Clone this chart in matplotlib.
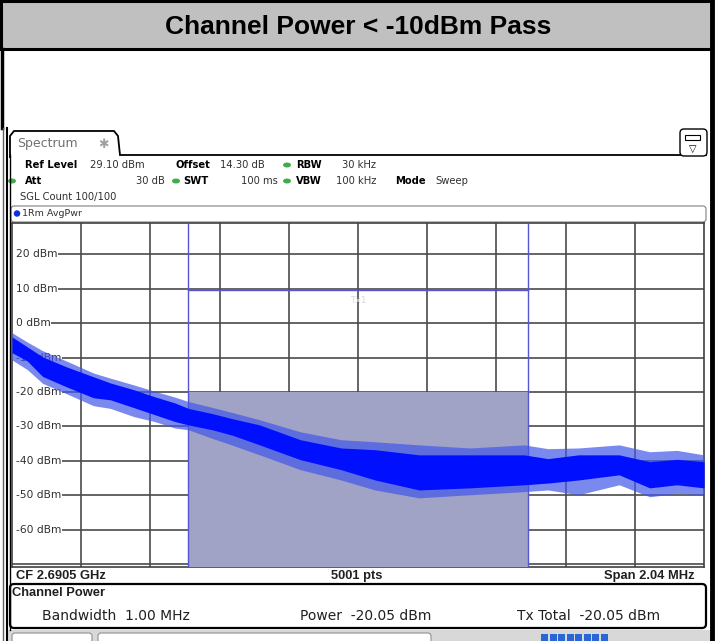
import matplotlib
matplotlib.use('Agg')
import matplotlib.pyplot as plt
from matplotlib.patches import Rectangle, FancyBboxPatch, Ellipse, Polygon

W, H = 715, 641

# ---------------- data ----------------
title = "Channel Power < -10dBm Pass"
ref_level = 29.10
span_mhz = 2.04
n_div = 10
y_ticks = [20, 10, 0, -10, -20, -30, -40, -50, -60]
y_ticklabels = ["20 dBm", "10 dBm", "0 dBm", "-10 dBm", "-20 dBm", "-30 dBm",
                "-40 dBm", "-50 dBm", "-60 dBm"]
channel_bw = 1.00
channel_power = -20.05
limit_level = 9.5

freq_mhz = [-1.02, -0.975, -0.93, -0.86, -0.78, -0.73, -0.66, -0.60, -0.54,
            -0.50, -0.43, -0.37, -0.29, -0.17, -0.05, 0.05, 0.18, 0.33,
            0.49, 0.56, 0.65, 0.77, 0.86, 0.94, 1.02]
core_hi = [-4.0, -6.9, -9.8, -12.7, -15.6, -17.4, -19.4, -21.4, -23.2,
           -24.8, -26.3, -27.8, -29.6, -33.9, -36.3, -36.8, -38.3, -38.3,
           -38.3, -39.4, -38.3, -38.3, -40.3, -39.6, -40.3]
core_lo = [-8.6, -11.0, -15.5, -18.5, -21.7, -22.3, -24.6, -26.6, -28.6,
           -29.6, -31.0, -32.6, -35.4, -39.7, -42.6, -45.6, -48.5, -47.9,
           -47.0, -46.5, -45.6, -44.1, -47.9, -47.0, -47.9]
spike_hi = [-2.8, -5.5, -8.0, -11.0, -14.5, -16.0, -18.0, -19.8, -21.5,
            -22.8, -24.5, -26.0, -28.1, -31.6, -33.9, -34.5, -35.4, -36.3,
            -35.4, -36.5, -36.3, -35.4, -37.4, -37.0, -38.3]
spike_lo = [-10.7, -13.5, -17.5, -20.5, -24.0, -24.8, -27.2, -28.6, -30.5,
            -31.0, -33.5, -35.5, -38.3, -42.6, -45.6, -48.5, -50.8, -49.9,
            -49.0, -48.5, -49.9, -47.0, -50.5, -49.5, -49.9]

info_labels = ["Ref Level", "Offset", "RBW", "Att", "SWT", "VBW", "Mode"]
info_values = ["29.10 dBm", "14.30 dB", "30 kHz", "30 dB", "100 ms", "100 kHz", "Sweep"]

# ---------------- figure ----------------
fig = plt.figure(figsize=(W / 100, H / 100), dpi=100)
bg = fig.add_axes([0, 0, 1, 1])
bg.set_xlim(0, W)
bg.set_ylim(H, 0)
bg.axis('off')

FONT = 'DejaVu Sans'

# banner
bg.add_patch(Rectangle((1, 1), 711, 48, fc='#c0c0c0', ec='black', lw=2.2))
bg.text(358, 27, title, ha='center', va='center', fontsize=19,
        fontweight='bold', family='Liberation Sans')
# outer borders
bg.plot([1.5, 1.5], [49, 128], color='black', lw=2.5)
bg.plot([712, 712], [0, 641], color='black', lw=3.5)
bg.plot([7, 7], [128, 641], color='black', lw=1.5)
bg.plot([3, 3], [128, 641], color='#606060', lw=1.0)

# spectrum tab
tab = Polygon([[10, 158], [10, 136], [14, 131], [114, 131], [118, 136],
               [120, 155], [707, 155]], closed=False, fill=False,
              ec='black', lw=1.3)
bg.add_patch(tab)
bg.text(17, 144, "Spectrum", fontsize=9, color='#707070', va='center', family=FONT)
bg.text(103, 144, "\u2731", fontsize=9, color='#a0a0a0', va='center',
        ha='center', family=FONT)
bg.plot([10, 10], [155, 630], color='black', lw=1.0)
# top right icon
bg.add_patch(FancyBboxPatch((680, 129), 27, 27, boxstyle='round,pad=0,rounding_size=4',
                            fc='white', ec='black', lw=1.0))
bg.add_patch(Rectangle((685, 135), 15, 5, fc='white', ec='black', lw=0.8))
bg.text(693, 149, "\u25bd", fontsize=7, ha='center', va='center', family=FONT)

# info lines
fs = 7.2
bg.text(25, 165, info_labels[0], fontsize=fs, fontweight='bold', va='center', family=FONT)
bg.text(90, 165, info_values[0], fontsize=fs, va='center', family=FONT, color='#303030')
bg.text(175, 165, info_labels[1], fontsize=fs, fontweight='bold', va='center', family=FONT)
bg.text(220, 165, info_values[1], fontsize=fs, va='center', family=FONT, color='#303030')
bg.text(296, 165, info_labels[2], fontsize=fs, fontweight='bold', va='center', family=FONT)
bg.text(376, 165, info_values[2], fontsize=fs, va='center', ha='right', family=FONT, color='#303030')
bg.text(25, 181, info_labels[3], fontsize=fs, fontweight='bold', va='center', family=FONT)
bg.text(165, 181, info_values[3], fontsize=fs, va='center', ha='right', family=FONT, color='#303030')
bg.text(183, 181, info_labels[4], fontsize=fs, fontweight='bold', va='center', family=FONT)
bg.text(278, 181, info_values[4], fontsize=fs, va='center', ha='right', family=FONT, color='#303030')
bg.text(296, 181, info_labels[5], fontsize=fs, fontweight='bold', va='center', family=FONT)
bg.text(376, 181, info_values[5], fontsize=fs, va='center', ha='right', family=FONT, color='#303030')
bg.text(395, 181, info_labels[6], fontsize=fs, fontweight='bold', va='center', family=FONT)
bg.text(435, 181, info_values[6], fontsize=fs, va='center', family=FONT, color='#303030')
bg.text(20, 197, "SGL Count 100/100", fontsize=fs, va='center', family=FONT, color='#303030')
for (gx, gy) in [(287, 165), (12, 181), (176, 181), (287, 181)]:
    bg.add_patch(Ellipse((gx, gy), 8, 5, fc='#3fae49', ec='none'))

# trace label box
bg.add_patch(FancyBboxPatch((11, 206), 695, 16, boxstyle='round,pad=0,rounding_size=3',
                            fc='white', ec='#808080', lw=0.8))
bg.add_patch(Ellipse((17, 213.5), 6.5, 6.5, fc='#1030e0', ec='none'))
bg.text(22, 213.5, "1Rm AvgPwr", fontsize=6.8, va='center', family=FONT, color='#303030')

# bottom row
bfs = 9.3
bg.text(16, 576, "CF 2.6905 GHz", fontsize=bfs, va='center', family='Liberation Sans',
        fontweight='bold', color='#202020')
bg.text(357, 576, "5001 pts", fontsize=bfs, va='center', ha='center', family='Liberation Sans',
        fontweight='bold', color='#202020')
bg.text(695, 576, "Span %.2f MHz" % span_mhz, fontsize=bfs, va='center', ha='right',
        family='Liberation Sans', fontweight='bold', color='#202020')

# channel power box
bg.add_patch(FancyBboxPatch((10, 584), 696, 44, boxstyle='round,pad=0,rounding_size=4',
                            fc='white', ec='black', lw=1.6))
bg.text(12, 593, "Channel Power", fontsize=bfs, va='center', family='Liberation Sans',
        fontweight='bold', color='#202020')
bg.text(42, 616, "Bandwidth  %.2f MHz" % channel_bw, fontsize=10, va='center',
        family=FONT, color='#202020')
bg.text(300, 616, "Power  %.2f dBm" % channel_power, fontsize=10, va='center',
        family=FONT, color='#202020')
bg.text(517, 616, "Tx Total  %.2f dBm" % channel_power, fontsize=10, va='center',
        family=FONT, color='#202020')

# bottom strip
bg.add_patch(Rectangle((8, 630), 703, 11, fc='#d8d8d8', ec='none'))
bg.add_patch(FancyBboxPatch((12, 633), 80, 10, boxstyle='round,pad=0,rounding_size=3',
                            fc='white', ec='#909090', lw=0.8))
bg.add_patch(FancyBboxPatch((98, 633), 333, 10, boxstyle='round,pad=0,rounding_size=3',
                            fc='white', ec='#909090', lw=0.8))
for k in range(8):
    bg.add_patch(Rectangle((541 + k * 8.5, 634), 7, 7, fc='#2a66d6', ec='none'))

# ---------------- plot ----------------
top_px, bot_px, left_px, right_px = 223, 567, 12, 704
ax = fig.add_axes([left_px / W, (H - bot_px) / H, (right_px - left_px) / W,
                   (bot_px - top_px) / H])
x0, x1 = -span_mhz / 2, span_mhz / 2
ylo, yhi = ref_level - 100, ref_level
ax.set_xlim(x0, x1)
ax.set_ylim(ylo, yhi)
ax.set_xticks([])
ax.set_yticks([])
for s in ax.spines.values():
    s.set_color('#404040')
    s.set_linewidth(1.2)

grid_c = '#4a4a4a'
for i in range(1, n_div):
    ax.axvline(x0 + i * span_mhz / n_div, color=grid_c, lw=1.2, zorder=1)
for v in y_ticks + [-70]:
    ax.axhline(v, color=grid_c, lw=1.2, zorder=1)

for v, lab in zip(y_ticks, y_ticklabels):
    ax.add_patch(Rectangle((x0, v - 1.5), 0.014, 3.0, fc='white', ec='none', zorder=1.5))
    ax.text(x0 + 0.012, v, lab, fontsize=7.7, va='center', ha='left', family=FONT,
            color='#303030', zorder=2,
            bbox=dict(fc='white', ec='none', pad=0.4))

# channel
ax.add_patch(Rectangle((-channel_bw / 2, ylo), channel_bw, channel_power - ylo,
                       fc='#a0a2c6', ec='none', zorder=3))
ch_c = '#5656d2'
ax.plot([-channel_bw / 2] * 2, [ylo, yhi], color=ch_c, lw=1.0, zorder=4)
ax.plot([channel_bw / 2] * 2, [ylo, yhi], color=ch_c, lw=1.0, zorder=4)
ax.plot([-channel_bw / 2, channel_bw / 2], [limit_level] * 2, color=ch_c, lw=1.0, zorder=4)
ax.text(0, limit_level - 3, "Tx1", fontsize=6.5, color='#d8d8d8', ha='center',
        va='center', family=FONT, zorder=4)

# trace
ax.fill_between(freq_mhz, spike_lo, spike_hi, color='#4257e8', alpha=0.7,
                lw=0, zorder=5)
ax.fill_between(freq_mhz, core_lo, core_hi, color='#0010ff', lw=0, zorder=6)

fig.savefig('out.png', dpi=100)
